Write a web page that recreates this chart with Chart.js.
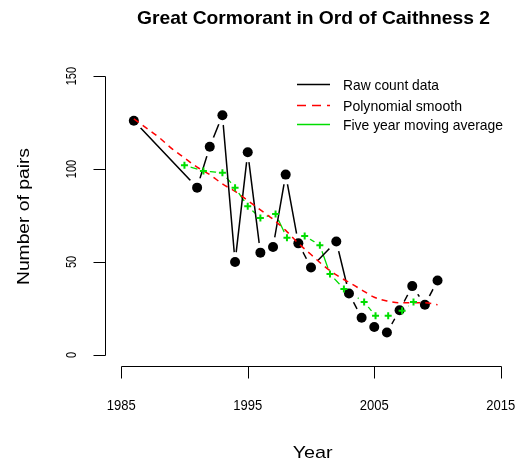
<!DOCTYPE html>
<html>
<head>
<meta charset="utf-8">
<script src="https://cdn.jsdelivr.net/npm/chart.js@4.4.1/dist/chart.umd.min.js"></script>
<style>
  html, body { margin: 0; padding: 0; background: #fff; }
  #wrap { width: 526px; height: 464px; }
</style>
</head>
<body>
<div id="wrap"><canvas id="birdChart" width="526" height="464"></canvas></div>
<script>
// Raw counts (years without a survey are simply missing)
const countYears = [1986, 1991, 1992, 1993, 1994, 1995, 1996, 1997, 1998, 1999, 2000,
                    2002, 2003, 2004, 2005, 2006, 2007, 2008, 2009, 2010];
const countPairs = [126, 90, 112, 129, 50, 109, 55, 58, 97, 60, 47,
                    61, 33, 20, 15, 12, 24, 37, 27, 40];

// Polynomial smooth
const smoothYears = [1986, 1987, 1988, 1989, 1990, 1991, 1992, 1993, 1994, 1995, 1996, 1997, 1998,
                     1999, 2000, 2001, 2002, 2003, 2004, 2005, 2006, 2007, 2008, 2009, 2010];
const smoothPairs = [127, 122, 117, 111, 106, 101, 97, 92, 88, 83, 78, 73, 67,
                     60, 54, 48, 43, 39, 35, 31, 29, 28, 28, 28, 27];

// Five year moving average
const avgYears = [1990, 1991.5, 1993, 1994, 1995, 1996, 1997.2, 1998.1, 1999.5, 2000.7,
                  2001.5, 2002.6, 2004.2, 2005.1, 2006.1, 2007.2, 2008.1];
const avgPairs = [102, 99, 98, 90, 80, 73.6, 75.8, 63, 64, 59,
                  43.5, 35.5, 28.5, 21, 21, 23.7, 28.5];

const xTicks = [1985, 1995, 2005, 2015];
const yTicks = [0, 50, 100, 150];
const legendLabels = ["Raw count data", "Polynomial smooth", "Five year moving average"];

const GREEN = "#00dd00";
const RED = "#ff0000";
const FONT = "'Liberation Sans', Arial, sans-serif";

function toPoints(xs, ys) {
    return xs.map((x, i) => ({ x: x, y: ys[i] }));
}

// draw text squeezed/stretched to a given width
function fitText(ctx, text, x, y, size, bold, width, align, angle) {
    ctx.save();
    ctx.font = (bold ? "bold " : "") + size + "px " + FONT;
    const w = ctx.measureText(text).width;
    ctx.translate(x, y);
    if (angle) ctx.rotate(angle);
    ctx.scale(width / w, 1);
    ctx.textAlign = align || "center";
    ctx.textBaseline = "middle";
    ctx.fillStyle = "#000";
    ctx.fillText(text, 0, 0);
    ctx.restore();
}

// R style axes, labels, title and legend
const rFrame = {
    id: "rFrame",
    afterDraw(chart) {
        const ctx = chart.ctx;
        const xs = chart.scales.x;
        const ys = chart.scales.y;
        const area = chart.chartArea;

        ctx.save();
        ctx.strokeStyle = "#000";
        ctx.lineWidth = 1;

        // y axis
        const axX = area.left - 0.5;
        ctx.beginPath();
        ctx.moveTo(axX, Math.round(ys.getPixelForValue(yTicks[0])) + 0.5);
        ctx.lineTo(axX, Math.round(ys.getPixelForValue(yTicks[yTicks.length - 1])) + 0.5);
        yTicks.forEach(t => {
            const py = Math.round(ys.getPixelForValue(t)) + 0.5;
            ctx.moveTo(axX, py);
            ctx.lineTo(axX - 12, py);
        });
        ctx.stroke();

        // x axis
        const axY = area.bottom + 0.5;
        ctx.beginPath();
        ctx.moveTo(Math.round(xs.getPixelForValue(xTicks[0])) + 0.5, axY);
        ctx.lineTo(Math.round(xs.getPixelForValue(xTicks[xTicks.length - 1])) + 0.5, axY);
        xTicks.forEach(t => {
            const px = Math.round(xs.getPixelForValue(t)) + 0.5;
            ctx.moveTo(px, axY);
            ctx.lineTo(px, axY + 12);
        });
        ctx.stroke();
        ctx.restore();

        // tick labels (narrow, like the original device font)
        ctx.save();
        ctx.font = "15px " + FONT;
        const sx = 29 / ctx.measureText("1985").width;
        const sy = 18.3 / ctx.measureText("100").width;
        ctx.restore();
        function tickText(label, x, y, s, angle) {
            ctx.save();
            ctx.font = "15px " + FONT;
            ctx.translate(x, y);
            if (angle) ctx.rotate(angle);
            ctx.scale(s, 1);
            ctx.textAlign = "center";
            ctx.textBaseline = "middle";
            ctx.fillStyle = "#000";
            ctx.fillText(label, 0, 0);
            ctx.restore();
        }
        xTicks.forEach(t => tickText(String(t), xs.getPixelForValue(t), 406, sx, 0));
        yTicks.forEach(t => tickText(String(t), 72, ys.getPixelForValue(t), sy, -Math.PI / 2));

        // title and axis titles
        fitText(ctx, "Great Cormorant in Ord of Caithness 2", 313.5, 18.5, 19, true, 353, "center");
        fitText(ctx, "Year", 312.7, 453, 17, false, 40, "center");
        fitText(ctx, "Number of pairs", 25, 216.5, 16, false, 137, "center", -Math.PI / 2);

        // legend
        const rows = [84.5, 105.5, 124.5];
        const widths = [96, 119, 160];
        ctx.save();
        ctx.lineWidth = 1.5;
        ctx.strokeStyle = "#000";
        ctx.beginPath(); ctx.moveTo(297, rows[0]); ctx.lineTo(330, rows[0]); ctx.stroke();
        ctx.strokeStyle = RED;
        ctx.setLineDash([9, 6]);
        ctx.beginPath(); ctx.moveTo(297, rows[1]); ctx.lineTo(330, rows[1]); ctx.stroke();
        ctx.setLineDash([]);
        ctx.strokeStyle = GREEN;
        ctx.beginPath(); ctx.moveTo(297, rows[2]); ctx.lineTo(330, rows[2]); ctx.stroke();
        ctx.restore();
        legendLabels.forEach((lab, i) => {
            fitText(ctx, lab, 343, rows[i] + 1, 15, false, widths[i], "left");
        });
    }
};

const countData = toPoints(countYears, countPairs);
const avgData = toPoints(avgYears, avgPairs);

new Chart(document.getElementById("birdChart").getContext("2d"), {
    type: "line",
    data: {
        datasets: [
            // green line, with gaps around its points (R type "b")
            { data: avgData, borderColor: GREEN, borderWidth: 1.3, pointRadius: 0, order: 7 },
            { data: avgData, showLine: false, pointRadius: 6.5, pointBackgroundColor: "#fff",
              pointBorderColor: "#fff", pointBorderWidth: 0, order: 6 },
            // raw counts
            { data: countData, borderColor: "#000", borderWidth: 1.5, pointRadius: 0, order: 5 },
            { data: countData, showLine: false, pointRadius: 10, pointBackgroundColor: "#fff",
              pointBorderColor: "#fff", pointBorderWidth: 0, order: 4 },
            { data: countData, showLine: false, pointRadius: 5, pointBackgroundColor: "#000",
              pointBorderColor: "#000", pointBorderWidth: 0, order: 3 },
            // polynomial smooth
            { data: toPoints(smoothYears, smoothPairs), borderColor: RED, borderWidth: 1.5,
              borderDash: [6, 5], pointRadius: 0, tension: 0.4, cubicInterpolationMode: "monotone", order: 2 },
            // moving average crosses
            { data: avgData, showLine: false, pointStyle: "cross", pointRadius: 3.5,
              pointBorderColor: GREEN, pointBorderWidth: 2, order: 1 }
        ]
    },
    options: {
        responsive: false,
        animation: false,
        layout: { padding: { left: 106, right: 4, top: 65, bottom: 98 } },
        scales: {
            x: { type: "linear", min: 1983.8, max: 2016.2, display: false },
            y: { min: -6, max: 156, display: false }
        },
        plugins: {
            legend: { display: false },
            title: { display: false },
            tooltip: { enabled: false }
        }
    },
    plugins: [rFrame]
});
</script>
</body>
</html>
